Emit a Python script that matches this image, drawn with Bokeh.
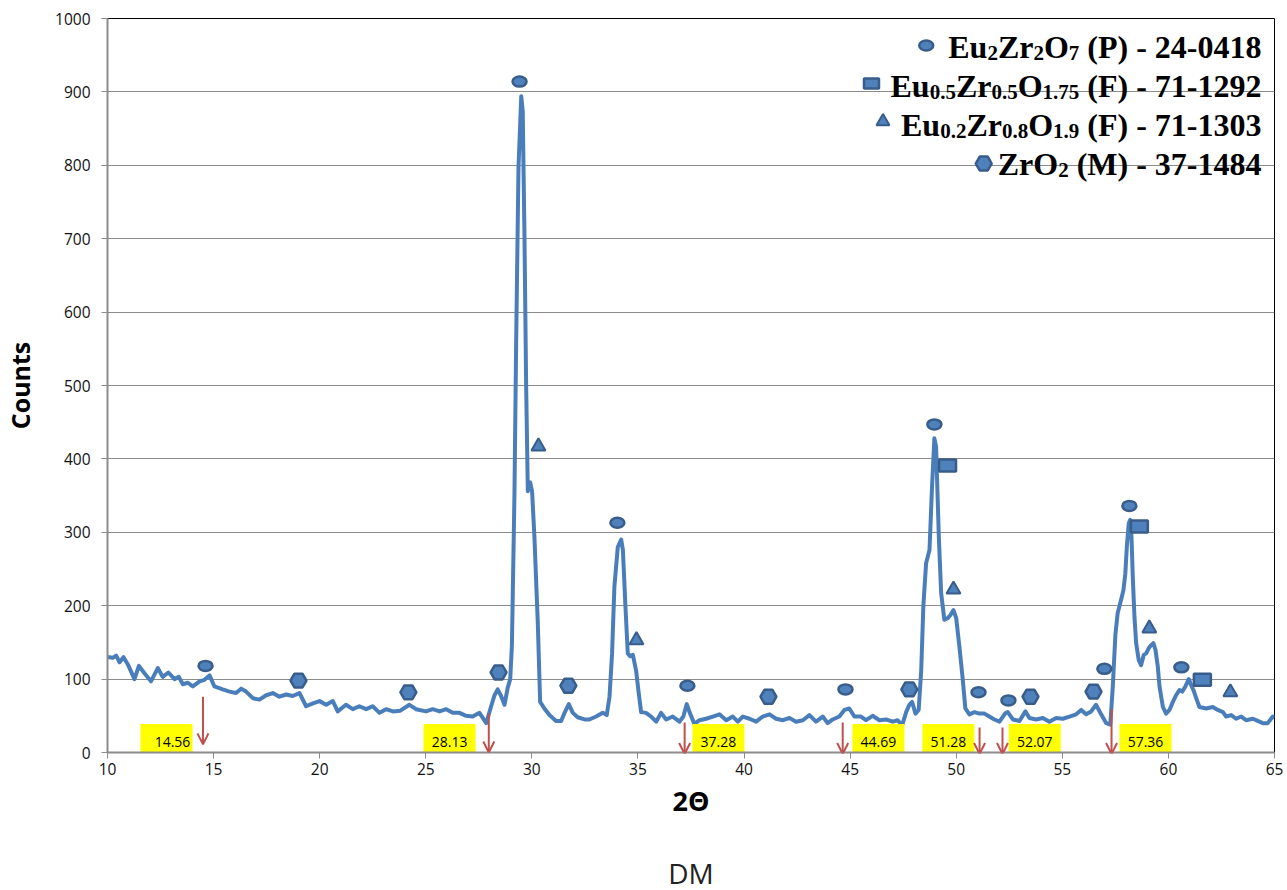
from bokeh.plotting import figure
from bokeh.models import Label, Arrow, OpenHead, FixedTicker, Range1d, ColumnDataSource, Title
from bokeh.embed import file_html
from bokeh.resources import INLINE
from bokeh.core.properties import value

# ---------------- data ----------------
two_theta = [10.0, 10.25, 10.41, 10.57, 10.75, 10.96, 11.27, 11.48, 11.74, 12.05, 12.37, 12.6, 12.87,
             13.16, 13.36, 13.55, 13.79, 14.02, 14.34, 14.57, 14.81, 15.04, 15.43, 15.75, 16.06, 16.3,
             16.53, 16.85, 17.16, 17.48, 17.79, 18.1, 18.42, 18.73, 19.05, 19.36, 19.68, 19.99, 20.31,
             20.62, 20.85, 21.24, 21.56, 21.87, 22.19, 22.5, 22.82, 23.13, 23.45, 23.8, 24.23, 24.54,
             25.01, 25.33, 25.65, 25.96, 26.27, 26.59, 26.9, 27.21, 27.53, 27.85, 28.08, 28.24, 28.39,
             28.55, 28.71, 28.86, 28.98, 29.06, 29.18, 29.26, 29.37, 29.5, 29.57, 29.65, 29.73, 29.81,
             29.92, 30.01, 30.12, 30.28, 30.39, 30.59, 30.83, 31.14, 31.38, 31.54, 31.74, 31.93, 32.16,
             32.48, 32.71, 33.03, 33.34, 33.53, 33.66, 33.78, 33.89, 34.05, 34.21, 34.29, 34.41, 34.52,
             34.63, 34.76, 34.91, 35.04, 35.15, 35.38, 35.62, 35.86, 36.09, 36.33, 36.64, 36.96, 37.14,
             37.3, 37.43, 37.66, 37.9, 38.21, 38.53, 38.84, 39.16, 39.47, 39.71, 39.94, 40.26, 40.57,
             40.88, 41.2, 41.51, 41.83, 42.14, 42.45, 42.77, 43.08, 43.39, 43.71, 43.94, 44.18, 44.49,
             44.73, 44.96, 45.2, 45.51, 45.75, 46.06, 46.38, 46.69, 47.0, 47.24, 47.45, 47.64, 47.79,
             47.92, 48.08, 48.23, 48.35, 48.45, 48.58, 48.74, 48.86, 48.97, 49.05, 49.18, 49.29, 49.44,
             49.6, 49.72, 49.87, 50.0, 50.15, 50.31, 50.43, 50.62, 50.86, 51.09, 51.33, 51.56, 51.8,
             52.04, 52.3, 52.43, 52.67, 52.98, 53.26, 53.45, 53.77, 54.08, 54.39, 54.71, 55.02, 55.34,
             55.65, 55.89, 56.12, 56.36, 56.59, 56.83, 57.07, 57.26, 57.38, 57.5, 57.61, 57.77, 57.88,
             57.97, 58.04, 58.13, 58.2, 58.26, 58.32, 58.4, 58.48, 58.6, 58.71, 58.84, 58.95, 59.07,
             59.18, 59.29, 59.39, 59.5, 59.58, 59.74, 59.89, 60.05, 60.21, 60.36, 60.52, 60.65, 60.8,
             60.96, 61.07, 61.18, 61.31, 61.46, 61.78, 62.09, 62.33, 62.57, 62.72, 62.96, 63.19, 63.43,
             63.66, 63.98, 64.21, 64.45, 64.68, 64.92, 65.0]
counts = [130, 129, 132, 123, 130, 120, 100, 118, 108, 97, 115, 103, 109,
          100, 103, 93, 95, 90, 97, 99, 105, 90, 86, 83, 81, 87,
          83, 74, 72, 78, 81, 76, 79, 77, 81, 63, 67, 70, 65,
          70, 56, 65, 59, 63, 59, 63, 54, 59, 56, 57, 65, 59,
          56, 59, 56, 59, 54, 54, 50, 49, 54, 40, 63, 78, 86,
          77, 65, 88, 100, 146, 353, 560, 797, 894, 873, 708, 501, 356,
          368, 356, 294, 176, 69, 60, 51, 43, 43, 54, 66, 54, 48,
          45, 45, 49, 54, 51, 76, 135, 226, 280, 290, 276, 199, 135,
          131, 133, 112, 80, 55, 54, 49, 42, 54, 45, 49, 42, 49,
          66, 55, 39, 44, 46, 49, 52, 44, 49, 42, 49, 46, 42,
          49, 52, 46, 44, 47, 42, 44, 51, 42, 49, 40, 45, 49,
          58, 60, 49, 49, 44, 50, 44, 45, 42, 44, 37, 55, 65,
          69, 53, 58, 112, 199, 258, 276, 362, 428, 417, 294, 217, 181,
          183, 187, 194, 183, 144, 99, 60, 52, 55, 53, 53, 49, 45,
          42, 53, 55, 45, 43, 56, 47, 45, 47, 42, 47, 46, 49,
          52, 58, 52, 56, 65, 52, 40, 38, 90, 160, 190, 208, 221,
          244, 280, 312, 317, 294, 240, 185, 149, 126, 119, 133, 135, 142,
          146, 149, 140, 117, 90, 62, 53, 58, 69, 78, 85, 83, 90,
          100, 92, 85, 74, 62, 60, 62, 58, 55, 49, 51, 46, 49,
          44, 46, 43, 40, 40, 49, 47]

# phase reflection markers
pyro_x = [14.62, 29.42, 34.03, 37.33, 44.78, 48.97, 51.05, 52.46, 56.98, 58.16, 60.61]
pyro_y = [118, 914, 313, 91, 86, 447, 82, 71, 114, 336, 116]
fluor1_x = [49.59, 58.63, 61.6]
fluor1_y = [391, 308, 99]
fluor2_x = [30.31, 34.93, 49.87, 59.1, 62.92]
fluor2_y = [417, 153, 222, 169, 82]
mono_x = [19.0, 24.18, 28.43, 31.72, 41.15, 47.79, 53.5, 56.47]
mono_y = [98, 82, 109, 91, 76, 86, 76, 83]

# annotated positions (yellow boxes + red arrows)
peak_labels = ["14.56", "28.13", "37.28", "44.69", "51.28", "52.07", "57.36"]
arrow_x = [14.5, 27.97, 37.2, 44.65, 51.1, 52.18, 57.32]
arrow_top = [76, 53, 41, 41, 34, 34, 59]
arrow_tip = [11, 0, -2, -2, -2, -2, -2]
box_x = [12.78, 26.12, 38.79, 46.33, 49.63, 53.7, 58.92]

x_ticks = [10, 15, 20, 25, 30, 35, 40, 45, 50, 55, 60, 65]
y_ticks = [0, 100, 200, 300, 400, 500, 600, 700, 800, 900, 1000]

legend_lines = [
    [("Eu", 0), ("2", 1), ("Zr", 0), ("2", 1), ("O", 0), ("7", 1), (" (P) - 24-0418", 0)],
    [("Eu", 0), ("0.5", 1), ("Zr", 0), ("0.5", 1), ("O", 0), ("1.75", 1), (" (F) - 71-1292", 0)],
    [("Eu", 0), ("0.2", 1), ("Zr", 0), ("0.8", 1), ("O", 0), ("1.9", 1), (" (F) - 71-1303", 0)],
    [("ZrO", 0), ("2", 1), (" (M) - 37-1484", 0)],
]

# ---------------- styling ----------------
LINE = "#4a7ebb"
MFILL = "#4f81bd"
MLINE = "#385d8a"
RED = "#c0504d"
GRID = "#8c8c8c"
TICK_FONT = "Open Sans"

FW, FH = 1167, 734
p = figure(frame_width=FW, frame_height=FH,
           min_border_left=107, min_border_right=12, min_border_top=18, min_border_bottom=137,
           x_range=Range1d(10, 65), y_range=Range1d(0, 1000),
           output_backend="svg", toolbar_location=None)
p.background_fill_color = "white"
p.border_fill_color = "white"
p.outline_line_color = "black"
p.outline_line_width = 1

p.xgrid.grid_line_color = None
p.ygrid.grid_line_color = GRID
p.ygrid.grid_line_width = 1

p.xaxis.ticker = FixedTicker(ticks=x_ticks)
p.yaxis.ticker = FixedTicker(ticks=y_ticks)
for ax in (p.xaxis[0], p.yaxis[0]):
    ax.axis_line_color = GRID
    ax.axis_line_width = 2
    ax.major_tick_line_color = GRID
    ax.major_tick_line_width = 1
    ax.major_tick_out = 6
    ax.major_tick_in = 0
    ax.minor_tick_line_color = None
    ax.major_label_text_font = TICK_FONT
    ax.major_label_text_font_size = "15.5px"
    ax.major_label_text_color = "#111111"
    ax.axis_label_text_font = TICK_FONT
    ax.axis_label_text_font_style = "bold"
    ax.axis_label_text_color = "black"

p.yaxis.axis_label = "Counts"
p.yaxis.axis_label_text_font_size = "25px"
p.yaxis.major_label_standoff = 11
p.yaxis.axis_label_standoff = 15
p.xaxis.axis_label = "2Θ"
p.xaxis.axis_label_text_font_size = "27px"
p.xaxis.major_label_standoff = 4
p.xaxis.axis_label_standoff = 4

# sample name below the axis title
p.add_layout(Title(text="DM", align="center", text_font=TICK_FONT, text_font_size="28px",
                   text_font_style="normal", text_color="#222222", standoff=61), "below")

# diffraction curve
p.line(two_theta, counts, line_color=LINE, line_width=4, line_join="round")

# phase markers
p.ellipse(pyro_x, pyro_y, width=14, height=10, width_units="screen", height_units="screen",
          fill_color=MFILL, line_color=MLINE, line_width=2.5)
p.rect(fluor1_x, fluor1_y, width=17, height=12, width_units="screen", height_units="screen",
       fill_color=MFILL, line_color=MLINE, line_width=2.5)
p.scatter(fluor2_x, fluor2_y, marker="triangle", size=14,
          fill_color=MFILL, line_color=MLINE, line_width=2)
p.scatter(mono_x, mono_y, marker="hex", size=16,
          fill_color=MFILL, line_color=MLINE, line_width=2.5)

# yellow boxes with labels
box_src = ColumnDataSource(dict(x=box_x, y=[19] * len(box_x), t=peak_labels,
                                dx=[6 if i == 0 else 0 for i in range(len(box_x))]))
p.rect("x", "y", width=52, height=29, width_units="screen", height_units="screen",
       fill_color="#ffff00", line_color=None, source=box_src)
p.text("x", "y", text="t", x_offset="dx", y_offset=3, source=box_src, text_align="center",
       text_baseline="middle", text_font=value(TICK_FONT), text_font_size="14px", text_color="black")

# red arrows
arr_src = ColumnDataSource(dict(x0=arrow_x, y0=arrow_top, x1=arrow_x, y1=arrow_tip))
p.add_layout(Arrow(x_start="x0", y_start="y0", x_end="x1", y_end="y1", source=arr_src,
                   line_color=RED, line_width=2,
                   end=OpenHead(size=11, line_color=RED, line_width=2)))

# ---------------- legend (built by hand: subscripts) ----------------
W = {'E': 667, 'u': 556, 'Z': 667, 'r': 444, 'O': 778, 'P': 611, 'F': 611, 'M': 944,
     ' ': 250, '(': 333, ')': 333, '-': 333, '.': 250}
for d in "0123456789":
    W[d] = 500
FS, SS = 32, 21


def tw(s, size):
    return sum(W.get(c, 500) for c in s) / 1000.0 * size


marker_rows = [27, 65, 103, 145]   # marker centres, px below the frame top
text_rows = [28, 67, 106, 145]     # text anchor rows, px below the frame top
gaps = [22, 19, 18, 14]
right_pad = 13
marker_px = []
for line, trow, mrow, gap in zip(legend_lines, text_rows, marker_rows, gaps):
    total = sum(tw(s, SS if sub else FS) for s, sub in line)
    cur = -right_pad - total
    for s, sub in line:
        size = SS if sub else FS
        lead = len(s) - len(s.lstrip(" "))
        txt = s.lstrip(" ")
        p.add_layout(Label(x=65, y=1000, x_offset=cur + tw(" " * lead, size),
                           y_offset=-trow - (6 if sub else 0), text=txt,
                           text_font="Liberation Serif", text_font_style="bold",
                           text_font_size=f"{size}px", text_color="black",
                           text_align="left", text_baseline="alphabetic"))
        cur += tw(s, size)
    start_px = FW - right_pad - total
    marker_px.append((start_px - gap, mrow))


def px2x(px):
    return 10 + px * 55.0 / FW


def py2y(py):
    return 1000 - py * 1000.0 / FH


(m1, m2, m3, m4) = marker_px
p.ellipse([px2x(m1[0])], [py2y(m1[1])], width=14, height=10, width_units="screen",
          height_units="screen", fill_color=MFILL, line_color=MLINE, line_width=2.5)
p.rect([px2x(m2[0])], [py2y(m2[1])], width=15, height=10, width_units="screen",
       height_units="screen", fill_color=MFILL, line_color=MLINE, line_width=2.5)
p.scatter([px2x(m3[0])], [py2y(m3[1])], marker="triangle", size=13,
          fill_color=MFILL, line_color=MLINE, line_width=2)
p.scatter([px2x(m4[0])], [py2y(m4[1])], marker="hex", size=16,
          fill_color=MFILL, line_color=MLINE, line_width=2.5)

open("out.html", "w").write(file_html(p, INLINE))
